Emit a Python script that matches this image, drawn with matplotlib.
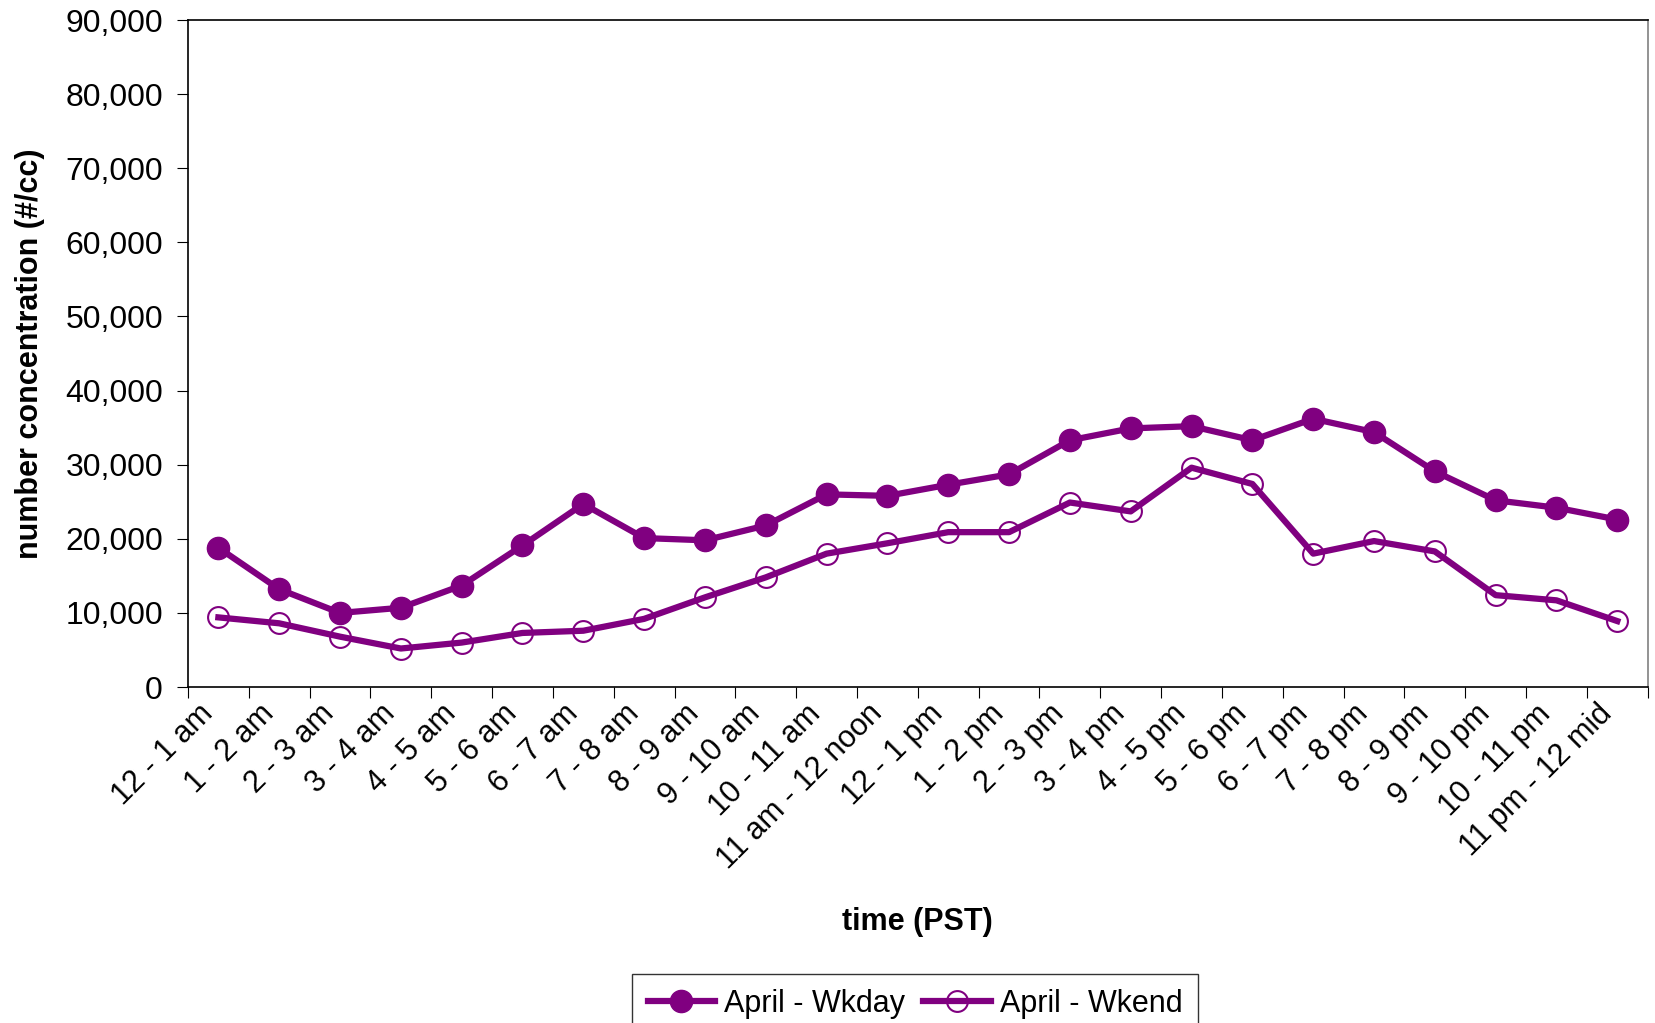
import numpy as np
import matplotlib
matplotlib.use("Agg")
import matplotlib.pyplot as plt
import matplotlib.transforms as mtransforms
from matplotlib.ticker import FuncFormatter, FixedLocator

plt.rcParams["font.family"] = ["Liberation Sans", "DejaVu Sans"]

hours = [
    "12 - 1 am", "1 - 2 am", "2 - 3 am", "3 - 4 am", "4 - 5 am", "5 - 6 am",
    "6 - 7 am", "7 - 8 am", "8 - 9 am", "9 - 10 am", "10 - 11 am",
    "11 am - 12 noon", "12 - 1 pm", "1 - 2 pm", "2 - 3 pm", "3 - 4 pm",
    "4 - 5 pm", "5 - 6 pm", "6 - 7 pm", "7 - 8 pm", "8 - 9 pm", "9 - 10 pm",
    "10 - 11 pm", "11 pm - 12 mid",
]
wkday = [18800, 13200, 10000, 10700, 13700, 19100, 24700, 20100, 19800,
         21800, 26000, 25800, 27300, 28700, 33300, 34900, 35200, 33300,
         36200, 34400, 29100, 25200, 24200, 22600]
wkend = [9400, 8600, 6800, 5200, 6000, 7300, 7600, 9200, 12100, 14800,
         18000, 19400, 20900, 20900, 24900, 23700, 29600, 27400, 18000,
         19700, 18300, 12400, 11700, 8900]

purple = "#800080"

fig = plt.figure(figsize=(16.56, 10.23), dpi=100)
ax = fig.add_axes([0.1135, 0.3284, 0.8815, 0.652])

x = np.arange(len(hours)) + 0.5
ax.plot(x, wkday, color=purple, lw=4.5, marker="o", ms=16,
        mfc=purple, mec=purple, label="April - Wkday")
ax.plot(x, wkend, color=purple, lw=4.5, marker="o", ms=15,
        mfc="none", mec=purple, mew=1.5, label="April - Wkend")

ax.set_xlim(0, len(hours))
ax.set_ylim(0, 90000)
ax.set_yticks(np.arange(0, 90001, 10000))
ax.yaxis.set_major_formatter(FuncFormatter(lambda v, p: f"{int(v):,}"))

# boundaries get the tick marks, centres get the labels
ax.xaxis.set_major_locator(FixedLocator(np.arange(0, len(hours) + 1)))
ax.xaxis.set_minor_locator(FixedLocator(x))
ax.set_xticklabels([], minor=False)
ax.set_xticklabels(hours, minor=True, rotation=45, ha="right",
                   va="center", rotation_mode="anchor")
ax.tick_params(axis="x", which="minor", length=0, pad=16, labelsize=22)
ax.tick_params(axis="x", which="major", length=8, direction="out")
ax.tick_params(axis="y", length=8, direction="out", labelsize=23, pad=10)

shift = mtransforms.ScaledTranslation(-10 / 100, 0, fig.dpi_scale_trans)
for lab in ax.get_xticklabels(minor=True):
    lab.set_transform(lab.get_transform() + shift)

for s in ax.spines.values():
    s.set_linewidth(1.2)
ax.spines["right"].set_color("#808080")

ax.set_xlabel("time (PST)", fontsize=22, fontweight="bold")
ax.xaxis.set_label_coords(0.5, -0.33)
ax.set_ylabel("number concentration (#/cc)", fontsize=22, fontweight="bold")
ax.yaxis.set_label_coords(-0.098, 0.5)

leg = fig.legend(loc="upper center", bbox_to_anchor=(0.5525, 0.048),
                 ncol=2, fontsize=22, frameon=True, fancybox=False,
                 handlelength=2.2, handletextpad=0.3, columnspacing=0.6,
                 borderpad=0.5, borderaxespad=0, edgecolor="black")
leg.get_frame().set_linewidth(1.0)

fig.savefig("out.png", dpi=100)
